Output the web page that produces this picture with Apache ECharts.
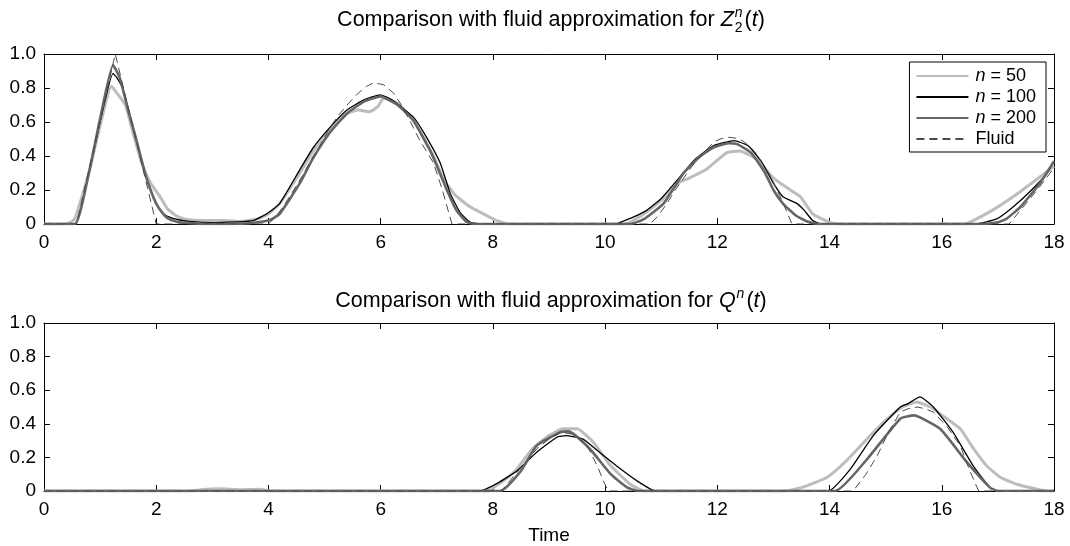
<!DOCTYPE html>
<html>
<head>
<meta charset="utf-8">
<script src="https://cdn.jsdelivr.net/npm/echarts@6/dist/echarts.min.js"></script>
<style>html,body{margin:0;padding:0;background:#fff}#c{width:1070px;height:546px}</style>
</head>
<body>
<div id="c"></div>
<script>
// ---- data: [time, value] pairs ----
const xTicks = [0, 2, 4, 6, 8, 10, 12, 14, 16, 18];
const yTicks = [0, 0.2, 0.4, 0.6, 0.8, 1.0];
const seriesNames = ['n = 50', 'n = 100', 'n = 200', 'Fluid'];

// Top panel: Z_2^n(t)
const z_n50 = [[0,0],[0.35,0],[0.47,0.01],[0.55,0.03],[0.8,0.3],[1.0,0.58],[1.2,0.81],[1.3,0.77],[1.45,0.7],[1.6,0.52],[1.75,0.35],[1.9,0.24],[2.07,0.16],[2.2,0.09],[2.35,0.05],[2.5,0.03],[2.8,0.02],[3.2,0.02],[3.5,0.015],[3.8,0.03],[4.0,0.06],[4.2,0.12],[4.56,0.3],[4.8,0.43],[5.1,0.56],[5.4,0.65],[5.6,0.67],[5.8,0.66],[5.95,0.69],[6.05,0.74],[6.3,0.71],[6.6,0.6],[6.94,0.4],[7.1,0.28],[7.3,0.18],[7.4,0.15],[7.6,0.1],[7.77,0.07],[8.07,0.02],[8.3,0],[10.35,0],[10.5,0.02],[10.74,0.07],[11.0,0.14],[11.3,0.24],[11.5,0.27],[11.8,0.32],[12.17,0.42],[12.4,0.43],[12.7,0.38],[13.0,0.27],[13.3,0.2],[13.48,0.16],[13.7,0.06],[14.0,0.01],[14.2,0],[16.4,0],[16.56,0.02],[16.9,0.08],[17.27,0.16],[17.6,0.24],[18,0.34]];
const z_n100 = [[0,0],[0.55,0],[0.8,0.3],[1.0,0.6],[1.23,0.886],[1.3,0.86],[1.4,0.8],[1.5,0.68],[1.65,0.49],[1.8,0.3],[1.9,0.2],[2.0,0.12],[2.1,0.07],[2.2,0.045],[2.4,0.025],[2.6,0.015],[3.0,0.008],[3.4,0.012],[3.73,0.02],[3.97,0.06],[4.2,0.12],[4.56,0.32],[4.8,0.45],[5.1,0.57],[5.4,0.67],[5.7,0.73],[5.99,0.76],[6.2,0.73],[6.58,0.63],[6.8,0.52],[7.06,0.36],[7.24,0.18],[7.42,0.065],[7.6,0.01],[7.8,0],[10.2,0],[10.27,0.01],[10.5,0.04],[10.74,0.08],[11.0,0.15],[11.34,0.28],[11.6,0.38],[11.93,0.46],[12.3,0.49],[12.55,0.46],[12.8,0.36],[13.0,0.24],[13.17,0.16],[13.42,0.12],[13.55,0.08],[13.7,0.02],[13.85,0],[16.6,0],[16.98,0.03],[17.27,0.1],[17.6,0.2],[17.88,0.3],[18,0.37]];
const z_n200 = [[0,0],[0.55,0],[0.8,0.3],[1.0,0.62],[1.23,0.935],[1.35,0.86],[1.5,0.67],[1.65,0.49],[1.8,0.3],[1.9,0.2],[2.0,0.12],[2.1,0.07],[2.2,0.035],[2.35,0.015],[2.6,0.005],[3.0,0],[3.6,0.003],[4.0,0.02],[4.2,0.06],[4.56,0.24],[4.8,0.39],[5.1,0.54],[5.4,0.65],[5.7,0.72],[6.0,0.75],[6.3,0.7],[6.58,0.61],[6.9,0.42],[7.18,0.2],[7.35,0.08],[7.54,0.01],[7.7,0],[10.45,0],[10.7,0.03],[11.04,0.12],[11.4,0.3],[11.7,0.4],[11.93,0.45],[12.2,0.475],[12.35,0.47],[12.6,0.42],[12.85,0.3],[13.0,0.2],[13.17,0.12],[13.4,0.05],[13.6,0.015],[13.8,0],[16.7,0],[17.0,0.01],[17.15,0.03],[17.4,0.1],[17.75,0.24],[18,0.37]];
const z_fluid = [[0,0],[0.58,0],[1.27,1.0],[2.0,0],[4.0,0],[4.15,0.05],[4.3,0.12],[4.45,0.2],[4.6,0.28],[4.75,0.37],[4.9,0.45],[5.1,0.57],[5.25,0.64],[5.4,0.7],[5.6,0.77],[5.75,0.81],[5.87,0.83],[6.05,0.82],[6.23,0.77],[6.35,0.71],[6.5,0.62],[6.7,0.49],[6.94,0.36],[7.1,0.2],[7.27,0],[10.8,0],[10.95,0.05],[11.1,0.12],[11.25,0.2],[11.4,0.27],[11.55,0.34],[11.7,0.4],[11.93,0.48],[12.05,0.5],[12.2,0.51],[12.33,0.505],[12.45,0.49],[12.6,0.45],[12.7,0.41],[12.82,0.35],[12.95,0.28],[13.15,0.14],[13.33,0],[17.2,0],[17.7,0.2],[18,0.33]];

// Bottom panel: Q^n(t)
const q_n50 = [[0,0],[2.6,0],[2.8,0.008],[3.15,0.013],[3.5,0.008],[3.85,0.01],[4.05,0],[7.9,0],[8.1,0.04],[8.4,0.12],[8.7,0.25],[9.0,0.33],[9.25,0.37],[9.5,0.37],[9.79,0.29],[10.1,0.15],[10.45,0.04],[10.7,0],[13.2,0],[13.5,0.02],[13.95,0.08],[14.3,0.18],[14.67,0.31],[15.0,0.42],[15.3,0.5],[15.55,0.53],[15.8,0.5],[16.05,0.44],[16.33,0.37],[16.55,0.26],[16.8,0.15],[17.05,0.08],[17.34,0.04],[17.7,0.01],[17.9,0],[18,0]];
const q_n100 = [[0,0],[7.77,0],[8.1,0.05],[8.43,0.12],[8.78,0.23],[9.14,0.32],[9.3,0.33],[9.6,0.31],[9.9,0.23],[10.2,0.15],[10.57,0.06],[10.9,0],[13.98,0],[14.37,0.13],[14.78,0.33],[15.26,0.5],[15.4,0.52],[15.61,0.56],[15.85,0.5],[16.2,0.35],[16.56,0.15],[16.86,0.02],[17.0,0],[18,0]];
const q_n200 = [[0,0],[8.13,0],[8.5,0.12],[8.78,0.27],[9.2,0.35],[9.35,0.355],[9.73,0.25],[10.1,0.1],[10.4,0.02],[10.6,0],[14.1,0],[14.67,0.19],[15.26,0.43],[15.5,0.45],[15.97,0.37],[16.45,0.17],[16.86,0.02],[17.0,0],[18,0]];
const q_fluid = [[0,0],[8.15,0],[8.4,0.1],[8.6,0.18],[8.78,0.25],[9.0,0.31],[9.2,0.35],[9.4,0.34],[9.55,0.31],[9.68,0.27],[9.86,0.15],[9.97,0.06],[10.05,0],[14.42,0],[14.65,0.1],[14.85,0.21],[15.05,0.35],[15.26,0.47],[15.4,0.49],[15.56,0.5],[15.7,0.49],[15.85,0.47],[16.1,0.38],[16.33,0.27],[16.5,0.12],[16.63,0.02],[16.66,0],[18,0]];

// ---- styling ----
const FONT = '"Liberation Sans", Arial, Helvetica, sans-serif';
const styles = [
  {color:'#bdbdbd', width:3, type:'solid', smooth:0.15},
  {color:'#000000', width:1.3, type:'solid', smooth:0.15},
  {color:'#666666', width:2.6, type:'solid', smooth:0.15},
  {color:'#4a4a4a', width:1, type:[8,5], smooth:false}
];
const panels = [
  {top:54, data:[z_n50, z_n100, z_n200, z_fluid]},
  {top:323, data:[q_n50, q_n100, q_n200, q_fluid]}
];

const grids = [], xAxes = [], yAxes = [], series = [];
panels.forEach((p, gi) => {
  grids.push({left:44, width:1010, top:p.top, height:170, show:false});
  const tickStyle = {inside:true, length:6, lineStyle:{color:'#000', width:1}};
  const base = {type:'value', gridIndex:gi, min:xTicks[0], max:xTicks[xTicks.length-1], interval:xTicks[1]-xTicks[0],
    splitLine:{show:false}, axisLine:{show:true, onZero:false, lineStyle:{color:'#000', width:1}}, axisTick:tickStyle};
  xAxes.push(Object.assign({}, base, {position:'bottom',
    axisLabel:{show:true, margin:9, fontSize:19, color:'#000', fontFamily:FONT},
    name: gi === 1 ? 'Time' : '', nameLocation:'middle', nameGap:35,
    nameTextStyle:{fontSize:19, color:'#000', fontFamily:FONT}}));
  xAxes.push(Object.assign({}, base, {position:'top', axisLabel:{show:false}}));
  const ybase = {type:'value', gridIndex:gi, min:yTicks[0], max:yTicks[yTicks.length-1], interval:yTicks[1]-yTicks[0],
    splitLine:{show:false}, axisLine:{show:true, onZero:false, lineStyle:{color:'#000', width:1}}, axisTick:tickStyle};
  yAxes.push(Object.assign({}, ybase, {position:'left',
    axisLabel:{show:true, margin:8, fontSize:19, color:'#000', fontFamily:FONT,
      formatter: v => v === 0 ? '0' : v.toFixed(1)}}));
  yAxes.push(Object.assign({}, ybase, {position:'right', axisLabel:{show:false}}));
  p.data.forEach((d, si) => {
    series.push({
      name: seriesNames[si], type:'line', xAxisIndex: gi*2, yAxisIndex: gi*2,
      data: d, symbol:'none', showSymbol:false, smooth:styles[si].smooth, z: 2 + si,
      lineStyle:{color:styles[si].color, width:styles[si].width, type:styles[si].type},
      itemStyle:{color:styles[si].color}, emphasis:{disabled:true}
    });
  });
});

// ---- titles with math notation, laid out with measured text widths ----
const ctx = document.createElement('canvas').getContext('2d');
function tw(text, size, italic){ ctx.font = (italic ? 'italic ' : '') + size + 'px ' + FONT; return ctx.measureText(text).width; }
function mathTitle(cy, sym, sup, sub){
  const S = 21.5, s = 14;
  const mainText = 'Comparison with fluid approximation for ';
  const parts = [];
  const wMain = tw(mainText, S, false), wSym = tw(sym, S, true);
  const wStack = Math.max(tw(sup, s, true), sub ? tw(sub, s, false) : 0) + 1;
  const wParen = tw('(', S, false), wT = tw('t', S, true), wClose = tw(')', S, false);
  const total = wMain + wSym + wStack + wParen + wT + wClose + 2;
  let x = 551 - total/2;
  const txt = (text, x, y, size, italic) => ({type:'text', x:x, y:y, silent:true,
    style:{text:text, fontSize:size, fontStyle: italic?'italic':'normal', fontFamily:FONT, fill:'#000', align:'left', verticalAlign:'middle'}});
  parts.push(txt(mainText, x, cy, S, false)); x += wMain;
  parts.push(txt(sym, x, cy, S, true)); x += wSym + 1;
  parts.push(txt(sup, x, cy - 7, s, true));
  if (sub) parts.push(txt(sub, x, cy + 8, s, false));
  x += wStack + 1;
  parts.push(txt('(', x, cy, S, false)); x += wParen;
  parts.push(txt('t', x, cy, S, true)); x += wT;
  parts.push(txt(')', x, cy, S, false));
  return parts;
}

const option = {
  animation:false,
  backgroundColor:'#fff',
  textStyle:{fontFamily:FONT},
  grid: grids, xAxis: xAxes, yAxis: yAxes, series: series,
  legend:{
    data: seriesNames, orient:'vertical', right:24, top:62,
    backgroundColor:'#fff', borderColor:'#000', borderWidth:1, borderRadius:0,
    padding:[5,10,4,6], itemGap:3, itemWidth:52, itemHeight:14,
    selectedMode:false,
    itemStyle:{opacity:0, borderWidth:0},
    formatter: name => name.charAt(0) === 'n' ? '{i|n}' + name.slice(1) : name,
    textStyle:{fontSize:18, color:'#000', fontFamily:FONT, padding:[0,0,0,2],
      rich:{i:{fontStyle:'italic', fontSize:18, fontFamily:FONT, color:'#000'}}}
  },
  graphic: [].concat(mathTitle(20, 'Z', 'n', '2'), mathTitle(301, 'Q', 'n', null))
};

const chart = echarts.init(document.getElementById('c'), null, {renderer:'canvas'});
chart.setOption(option);
</script>
</body>
</html>
